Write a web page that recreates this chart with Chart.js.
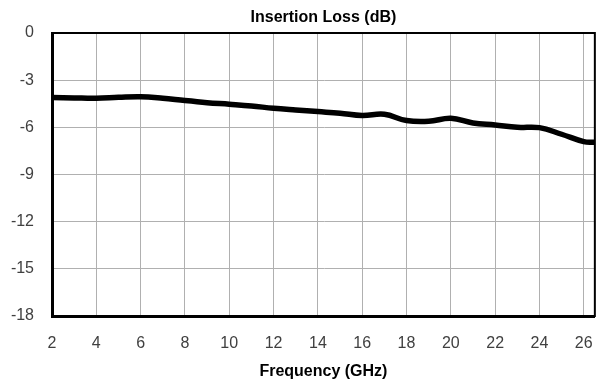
<!DOCTYPE html>
<html>
<head>
<meta charset="utf-8">
<script src="https://cdn.jsdelivr.net/npm/chart.js@4/dist/chart.umd.min.js"></script>
<style>
    html, body { margin: 0; padding: 0; background: #fff; }
    #wrap { width: 611px; height: 387px; }
</style>
</head>
<body>
<div id="wrap"><canvas id="loss-chart" width="611" height="387"></canvas></div>
<script>
// datos
const freq = [2, 3, 4, 5, 6, 7, 8, 9, 10, 11, 12, 13, 14, 15, 16, 17, 18, 19, 20, 21, 22, 23, 24, 25, 26, 26.5];
const loss = [-4.10, -4.13, -4.15, -4.09, -4.05, -4.15, -4.30, -4.43, -4.53, -4.64, -4.79, -4.90, -5.00, -5.10, -5.25, -5.17, -5.57, -5.62, -5.43, -5.72, -5.85, -6.00, -6.02, -6.44, -6.91, -6.95];
const xTicks = [2, 4, 6, 8, 10, 12, 14, 16, 18, 20, 22, 24, 26];
const yTicks = [0, -3, -6, -9, -12, -15, -18];

const points = freq.map(function (f, i) {
    return { x: f, y: loss[i] };
});

const fontName = 'Liberation Sans';

// marco negro del area
const frame = {
    id: 'frame',
    afterDraw: function (chart) {
        const a = chart.chartArea;
        const c = chart.ctx;
        c.save();
        c.strokeStyle = '#000';
        c.lineWidth = 2;
        c.strokeRect(a.left, a.top, a.right - a.left, a.bottom - a.top);
        c.restore();
    }
};

const ctx = document.getElementById('loss-chart');

new Chart(ctx, {
    type: 'line',
    data: {
        datasets: [{
            label: 'Insertion Loss',
            data: points,
            borderColor: '#000',
            borderWidth: 5.5,
            pointRadius: 0,
            tension: 0.4,
            fill: false
        }]
    },
    options: {
        responsive: false,
        animation: false,
        layout: { padding: { left: 0, right: 3, top: 0, bottom: 5 } },
        plugins: {
            legend: { display: false },
            tooltip: { enabled: false }
        },
        scales: {
            // eje superior solo para el titulo
            top: {
                type: 'linear',
                position: 'top',
                min: 2,
                max: 26.5,
                afterFit: function (scale) {
                    scale.height = 33;
                },
                ticks: { display: false },
                grid: { display: false, drawTicks: false },
                border: { display: false },
                title: {
                    display: true,
                    text: 'Insertion Loss (dB)',
                    color: '#000',
                    font: { family: fontName, size: 16, weight: 'bold' },
                    padding: { top: 8, bottom: 0 }
                }
            },
            x: {
                type: 'linear',
                min: 2,
                max: 26.5,
                afterBuildTicks: function (scale) {
                    scale.ticks = xTicks.map(function (v) { return { value: v }; });
                },
                afterFit: function (scale) {
                    scale.height = 66;
                },
                ticks: {
                    color: '#404040',
                    font: { family: fontName, size: 16 },
                    padding: 18,
                    maxRotation: 0
                },
                grid: { color: '#b0b0b0', lineWidth: 1, drawTicks: false },
                border: { color: '#000', width: 3 },
                title: {
                    display: true,
                    text: 'Frequency (GHz)',
                    color: '#000',
                    font: { family: fontName, size: 16, weight: 'bold' },
                    padding: { top: 10, bottom: 1 }
                }
            },
            y: {
                min: -18,
                max: 0,
                afterBuildTicks: function (scale) {
                    scale.ticks = yTicks.map(function (v) { return { value: v }; });
                },
                afterFit: function (scale) {
                    scale.width = 52;
                },
                ticks: {
                    color: '#404040',
                    font: { family: fontName, size: 16 },
                    padding: 18
                },
                grid: { color: '#b0b0b0', lineWidth: 1, drawTicks: false },
                border: { color: '#000', width: 3 }
            }
        }
    },
    plugins: [frame]
});
</script>
</body>
</html>
